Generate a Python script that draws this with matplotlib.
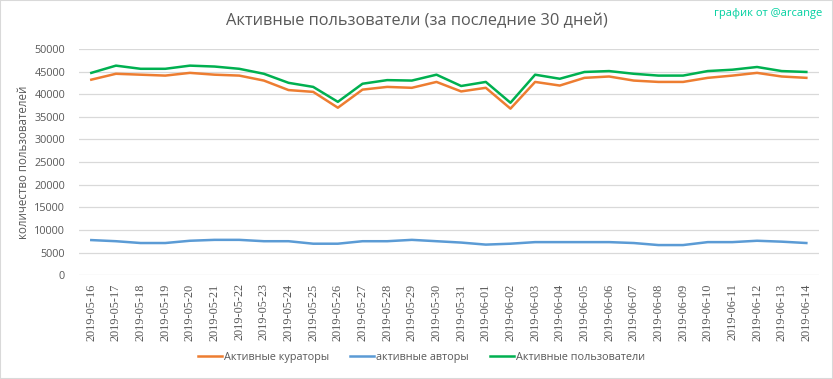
import pandas as pd
import matplotlib.pyplot as plt

dates = pd.date_range('2019-05-16', '2019-06-14').strftime('%Y-%m-%d').tolist()

curators = [43200, 44500, 44300, 44100, 44700, 44300, 44100, 43000, 40900, 40500,
            37000, 41000, 41600, 41400, 42700, 40600, 41400, 36800, 42700, 41900,
            43600, 43900, 43000, 42700, 42700, 43600, 44100, 44700, 43900, 43600]
authors = [7750, 7500, 7100, 7100, 7600, 7800, 7800, 7500, 7500, 6950,
           6950, 7500, 7500, 7800, 7500, 7200, 6750, 6950, 7300, 7300,
           7300, 7300, 7100, 6650, 6650, 7300, 7300, 7600, 7400, 7100]
users = [44700, 46300, 45600, 45600, 46300, 46100, 45600, 44500, 42500, 41600,
         38300, 42300, 43100, 43000, 44300, 41800, 42700, 38100, 44300, 43400,
         44900, 45100, 44500, 44100, 44100, 45100, 45400, 46000, 45100, 44900]

plt.rcParams['font.family'] = ['Open Sans', 'DejaVu Sans']

fig = plt.figure(figsize=(8.33, 3.79), dpi=100)
ax = fig.add_axes([0.0948, 0.274, 0.888, 0.597])

x = range(len(dates))
ax.plot(x, curators, color='#ED7D31', lw=1.8, label='Активные кураторы')
ax.plot(x, authors, color='#5B9BD5', lw=1.8, label='активные авторы')
ax.plot(x, users, color='#00B050', lw=1.8, label='Активные пользователи')

ax.set_xlim(-0.5, len(dates) - 0.5)
ax.set_ylim(0, 50000)
ax.set_yticks(range(0, 50001, 5000))
ax.set_xticks(list(x))
ax.set_xticklabels(dates, rotation=90, fontsize=8.8, color='#595959',
                   family=['Liberation Serif', 'DejaVu Serif'])
ax.tick_params(axis='y', labelsize=7.8, colors='#595959', length=0, pad=10)
ax.tick_params(axis='x', length=0, pad=6)
ax.grid(axis='y', color='#D9D9D9', lw=0.9)
ax.set_axisbelow(True)
for s in ax.spines.values():
    s.set_visible(False)

ax.set_ylabel('количество пользователей', fontsize=8.3, color='#595959', labelpad=3)

fig.text(0.5, 0.945, 'Активные пользователи (за последние 30 дней)',
         ha='center', va='center', fontsize=11.8, color='#595959')
fig.text(0.987, 0.965, 'график от @arcange', ha='right', va='center',
         fontsize=8, color='#00D0A0')

fig.legend(loc='center', bbox_to_anchor=(0.506, 0.058), ncol=3, frameon=False,
           fontsize=7.8, labelcolor='#595959', handlelength=2.2,
           handletextpad=0.15, columnspacing=2.0)

fig.patches.append(plt.Rectangle((0, 0), 1, 1, transform=fig.transFigure,
                                 fill=False, edgecolor='#D9D9D9', lw=1.5))

fig.savefig('out.png')
